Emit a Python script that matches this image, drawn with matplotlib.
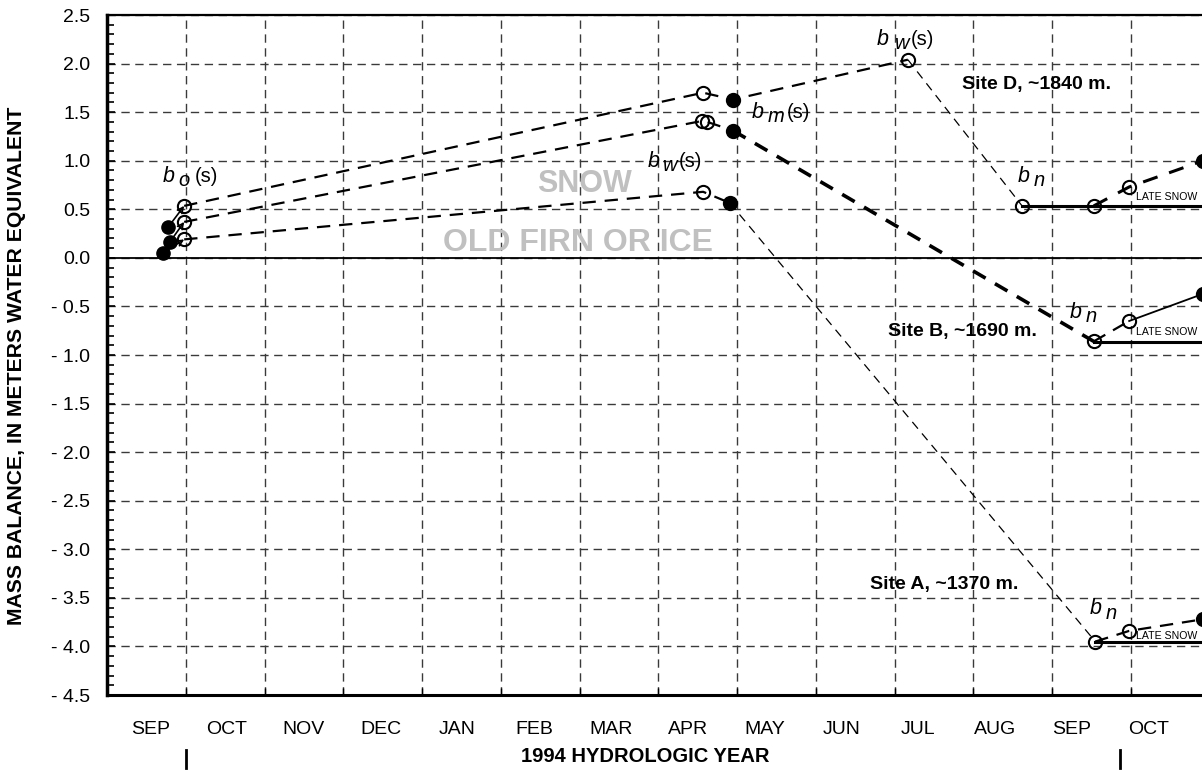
import numpy as np
import matplotlib
matplotlib.use('Agg')
import matplotlib.pyplot as plt
import matplotlib.transforms as mtransforms
from matplotlib import font_manager

plt.rcParams['font.family'] = ['Liberation Sans', 'DejaVu Sans']
names = set(f.name for f in font_manager.fontManager.ttflist)
narrow = 'Liberation Sans Narrow' if 'Liberation Sans Narrow' in names else 'Liberation Sans'

# months from Sep 1 1993 (x = 0) ; values in m water equivalent
months = ['SEP', 'OCT', 'NOV', 'DEC', 'JAN', 'FEB', 'MAR', 'APR',
          'MAY', 'JUN', 'JUL', 'AUG', 'SEP', 'OCT']

# early-fall points (filled) before the year start
start_x = [0.71, 0.80, 0.78]
start_y = [0.05, 0.165, 0.32]

# Site A, ~1370 m
a_x = [0.98, 7.57, 7.91, 12.55, 12.98, 13.92]
a_y = [0.19, 0.68, 0.565, -3.95, -3.84, -3.72]
a_fill = [False, False, True, False, False, True]

# Site B, ~1690 m
b_x = [0.98, 7.56, 7.62, 7.95, 12.53, 12.98, 13.92]
b_y = [0.37, 1.41, 1.40, 1.31, -0.86, -0.65, -0.37]
b_fill = [False, False, False, True, False, False, True]

# Site D, ~1840 m
d_x = [0.98, 7.57, 7.95, 10.17, 11.62, 12.53, 12.98, 13.92]
d_y = [0.535, 1.70, 1.63, 2.04, 0.535, 0.535, 0.73, 1.00]
d_fill = [False, False, True, False, False, False, False, True]

yticks = np.arange(-4.5, 2.51, 0.5)

fig = plt.figure(figsize=(12.02, 7.70), dpi=100)
ax = fig.add_axes([107/1202, 1 - 695/770, 14*78.75/1202, 680/770])
ax.set_xlim(0, 14)
ax.set_ylim(-4.5, 2.5)

# grid
for gx in range(1, 14):
    ax.axvline(gx, color='#3a3a3a', lw=1.0, dashes=(6, 4), zorder=1)
for gy in yticks:
    ax.axhline(gy, color='#3a3a3a', lw=1.0, dashes=(6, 4), zorder=1)
ax.axhline(0, color='black', lw=1.3, zorder=2)

ax.set_xticks(range(1, 14))
ax.tick_params(axis='x', direction='in', length=5, labelbottom=False, width=1)
ax.set_yticks(yticks)
ax.set_yticks(np.arange(-4.5, 2.51, 0.1), minor=True)
ax.set_yticklabels([f'{v:.1f}' if v >= -0.01 else f'- {abs(v):.1f}' for v in yticks])
ax.tick_params(axis='y', which='major', direction='in', length=6, width=1.2,
               labelsize=14, pad=12)
ax.tick_params(axis='y', which='minor', direction='in', length=5, width=1.2)
ax.spines['left'].set_linewidth(2.5)
ax.spines['bottom'].set_linewidth(2.2)
ax.spines['top'].set_linewidth(1.6)
ax.spines['right'].set_visible(False)

med = dict(color='black', lw=1.6, dashes=(6, 4), zorder=3)
thin = dict(color='black', lw=0.9, dashes=(7, 5), zorder=3)
thick = dict(color='black', lw=2.6, dashes=(4, 3), zorder=3)
solid = dict(color='black', lw=1.3, zorder=3)

# Site A
ax.plot(a_x[0:3], a_y[0:3], **med)
ax.plot(a_x[2:4], a_y[2:4], **thin)
ax.plot(a_x[3:6], a_y[3:6], **med)
ax.plot([a_x[3], 14], [a_y[3], a_y[3]], color='black', lw=2.2, zorder=3)

# Site B
ax.plot(b_x[0:4], b_y[0:4], **med)
ax.plot(b_x[3:5], b_y[3:5], **thick)
ax.plot(b_x[4:6], b_y[4:6], **med)
ax.plot(b_x[5:7], b_y[5:7], **solid)
ax.plot([b_x[4], 14], [b_y[4] - 0.01, b_y[4] - 0.01], color='black', lw=2.2, zorder=3)

# Site D
ax.plot(d_x[0:4], d_y[0:4], **med)
ax.plot(d_x[3:5], d_y[3:5], **thin)
ax.plot([d_x[4], 14], [d_y[4], d_y[4]], color='black', lw=2.2, zorder=3)
ax.plot(d_x[5:8], d_y[5:8], color='black', lw=2.2, dashes=(5, 4), zorder=3)

# early-fall arrows
for sx, sy, ex, ey in zip(start_x, start_y, [a_x[0], b_x[0], d_x[0]],
                          [a_y[0], b_y[0], d_y[0]]):
    ax.annotate('', xy=(ex, ey), xytext=(sx, sy),
                arrowprops=dict(arrowstyle='->', color='black', lw=1.2,
                                shrinkA=0, shrinkB=0), zorder=4)
ax.plot(start_x, start_y, 'o', ms=9.5, color='black', zorder=5)

for xs, ys, fs in [(a_x, a_y, a_fill), (b_x, b_y, b_fill), (d_x, d_y, d_fill)]:
    for xx, yy, ff in zip(xs, ys, fs):
        ax.plot(xx, yy, 'o', ms=9.5, mec='black', mew=1.5,
                mfc='black' if ff else 'none', zorder=5, clip_on=False)

# text
gray = '#c0c0c0'
ax.text(6.06, 0.76, 'SNOW', color=gray, fontsize=22, fontweight='bold',
        ha='center', va='center', zorder=2)
ax.text(5.98, 0.15, 'OLD FIRN OR ICE', color=gray, fontsize=23,
        fontweight='bold', ha='center', va='center', zorder=2)

site = dict(fontsize=14, fontweight='bold', family=narrow, va='center', ha='left')
ax.text(10.86, 1.78, 'Site D, ~1840 m.', **site)
ax.text(9.92, -0.76, 'Site B, ~1690 m.', **site)
ax.text(9.69, -3.36, 'Site A, ~1370 m.', **site)

late = dict(fontsize=7.6, family=narrow, va='center', ha='left', zorder=6)
ax.text(13.07, 0.63, 'LATE SNOW', **late)
ax.text(13.07, -0.76, 'LATE SNOW', **late)
ax.text(13.07, -3.89, 'LATE SNOW', **late)


def blabel(x, y, sub, dsub, ds=None):
    ax.text(x, y, 'b', style='italic', fontsize=15.5, va='baseline', zorder=6)
    ax.annotate(sub, (x, y), xytext=(dsub, -3), textcoords='offset points',
                style='italic', fontsize=14.5, va='baseline', zorder=6)
    if ds is not None:
        ax.annotate('(s)', (x, y), xytext=(ds, 0), textcoords='offset points',
                    fontsize=14.5, va='baseline', zorder=6)


blabel(0.71, 0.78, 'o', 11, 23)
blabel(6.86, 0.94, 'w', 11.5, 23)
blabel(8.19, 1.44, 'm', 11, 25)
blabel(9.78, 2.19, 'w', 13, 24)
blabel(11.56, 0.78, 'n', 11.5)
blabel(12.23, -0.62, 'n', 11.5)
blabel(12.48, -3.67, 'n', 11.5)

# month labels and axis titles
for i, m in enumerate(months):
    ax.text(i*0.975 + 0.55, -0.05, m, transform=ax.get_xaxis_transform(),
            ha='center', va='center', fontsize=14)
trans = mtransforms.blended_transform_factory(ax.transData, ax.transAxes)
for bx in [1.0, 12.86]:
    ax.plot([bx, bx], [-0.081, -0.107], color='black', lw=2, transform=trans,
            clip_on=False)
fig.text(645/1202, 1 - 757/770, '1994 HYDROLOGIC YEAR', ha='center',
         va='center', fontsize=14.5, fontweight='bold')
fig.text(17/1202, 1 - 366/770, 'MASS BALANCE, IN METERS WATER EQUIVALENT',
         rotation=90, ha='center', va='center', fontsize=15.2, fontweight='bold')

fig.savefig('out.png', dpi=100)
